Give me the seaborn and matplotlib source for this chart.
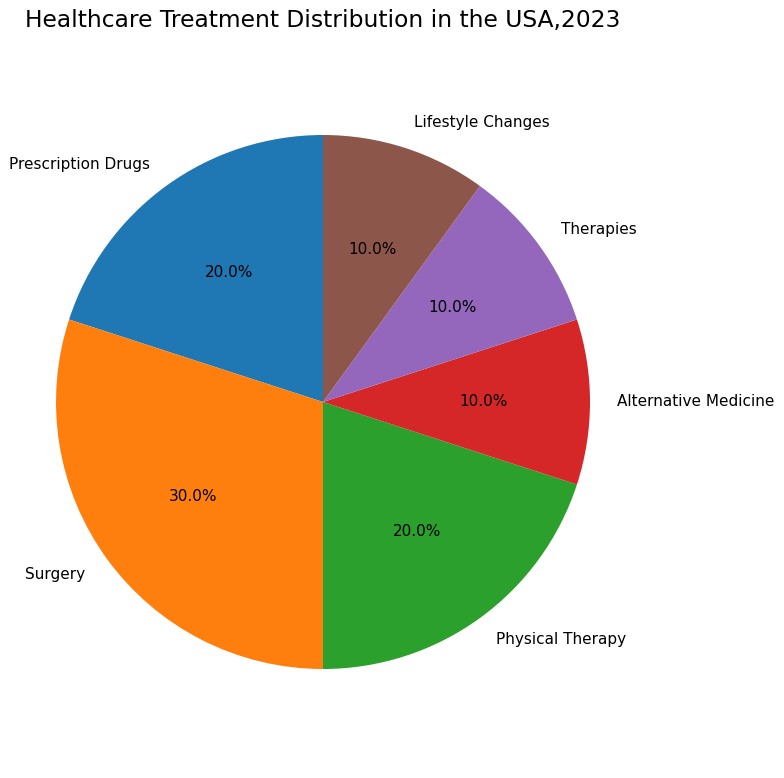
import seaborn as sns
import matplotlib.pyplot as plt

# Dados do gráfico
tratamentos = ['Prescription Drugs', 'Surgery', 'Physical Therapy',
               'Alternative Medicine', 'Therapies', 'Lifestyle Changes']
percentuais = [20, 30, 20, 10, 10, 10]

sns.set_style('white')
plt.rcParams['text.color'] = 'black'
cores = sns.color_palette('tab10', len(tratamentos))

fig = plt.figure(figsize=(7.84, 7.78), dpi=100)
ax = fig.add_axes([56 / 784, 1 - 669 / 778, 534 / 784, 534 / 778])
ax.pie(percentuais, labels=tratamentos, colors=cores, autopct='%1.1f%%',
       startangle=90, textprops={'fontsize': 11, 'color': 'black'},
       wedgeprops={'linewidth': 0})
ax.set_aspect('equal')
ax.set_xlim(-1, 1)
ax.set_ylim(-1, 1)
fig.text(323 / 784, 1 - 21 / 778, 'Healthcare Treatment Distribution in the USA,2023',
         ha='center', va='center', fontsize=16.8, color='black')

plt.savefig('out.png', dpi=100)
